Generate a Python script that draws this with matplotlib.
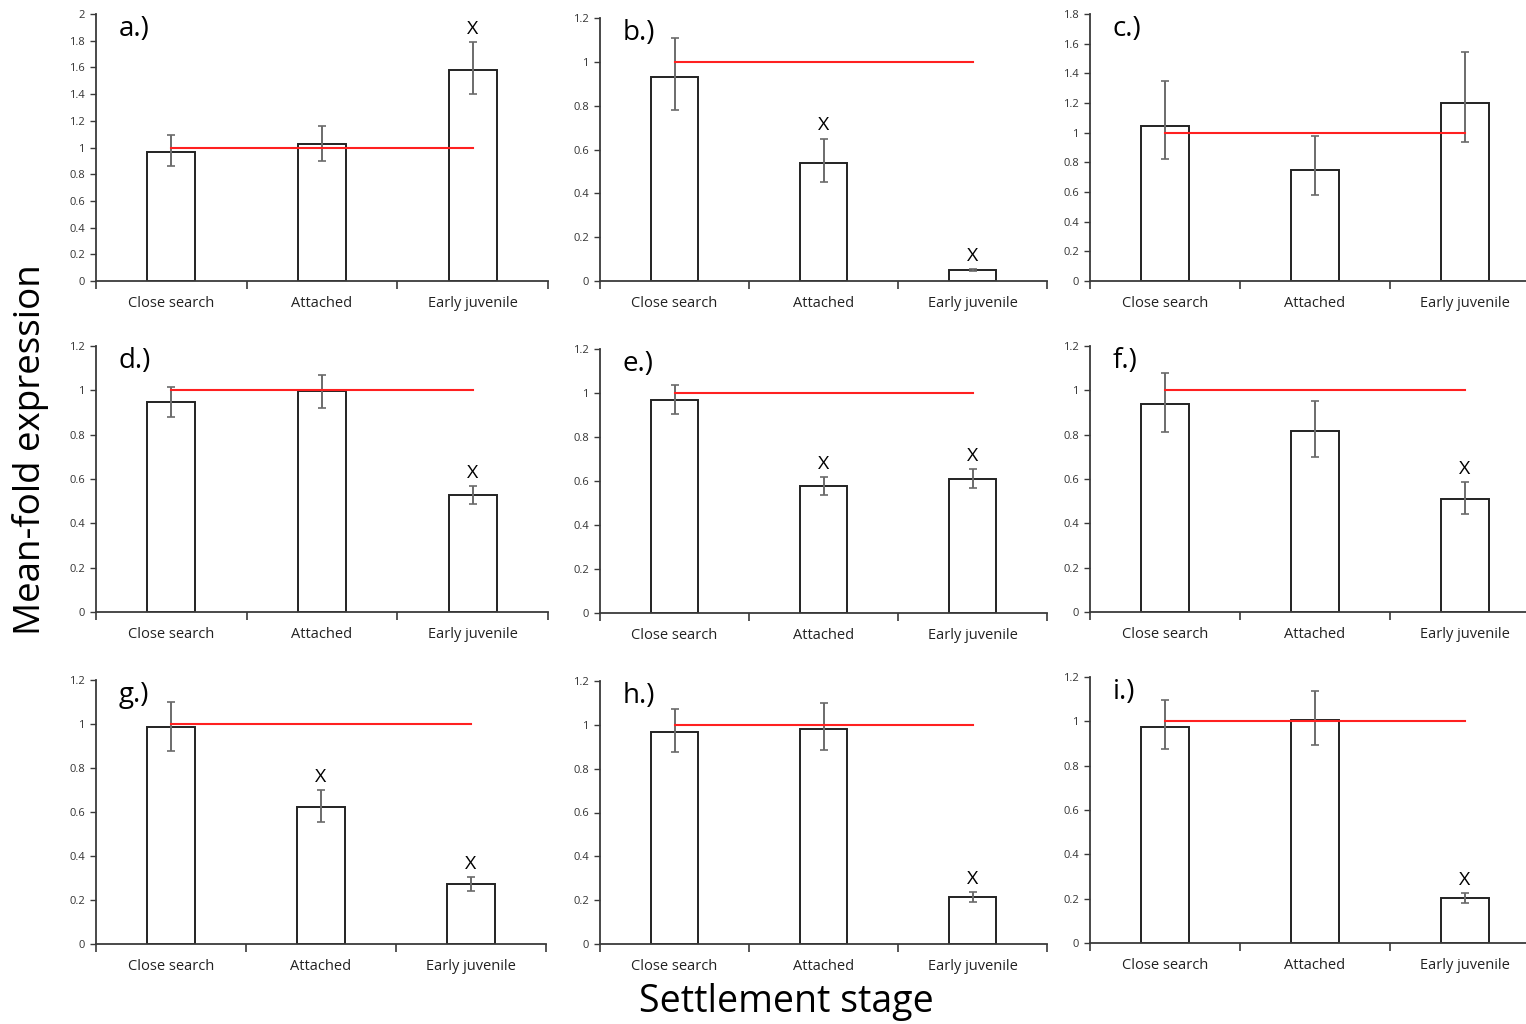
import matplotlib
matplotlib.use("Agg")
import matplotlib.pyplot as plt
import numpy as np

plt.rcParams['font.family'] = ['Open Sans', 'DejaVu Sans']

categories = ["Close search", "Attached", "Early juvenile"]
panel_labels = ["a.)", "b.)", "c.)", "d.)", "e.)", "f.)", "g.)", "h.)", "i.)"]
y_max = [2.0, 1.2, 1.8, 1.2, 1.2, 1.2, 1.2, 1.2, 1.2]

means_a = [0.966, 1.026, 1.58]
err_hi_a = [1.09, 1.16, 1.79]
err_lo_a = [0.86, 0.90, 1.40]
sig_a = [False, False, True]

means_b = [0.93, 0.54, 0.05]
err_hi_b = [1.11, 0.65, 0.056]
err_lo_b = [0.78, 0.45, 0.044]
sig_b = [False, True, True]

means_c = [1.045, 0.75, 1.20]
err_hi_c = [1.35, 0.98, 1.545]
err_lo_c = [0.82, 0.58, 0.94]
sig_c = [False, False, False]

means_d = [0.947, 0.997, 0.528]
err_hi_d = [1.015, 1.07, 0.568]
err_lo_d = [0.88, 0.92, 0.487]
sig_d = [False, False, True]

means_e = [0.968, 0.577, 0.609]
err_hi_e = [1.036, 0.618, 0.655]
err_lo_e = [0.905, 0.536, 0.568]
sig_e = [False, True, True]

means_f = [0.94, 0.816, 0.51]
err_hi_f = [1.08, 0.95, 0.586]
err_lo_f = [0.81, 0.70, 0.44]
sig_f = [False, False, True]

means_g = [0.986, 0.623, 0.273]
err_hi_g = [1.10, 0.70, 0.305]
err_lo_g = [0.877, 0.555, 0.24]
sig_g = [False, True, True]

means_h = [0.968, 0.982, 0.215]
err_hi_h = [1.073, 1.10, 0.237]
err_lo_h = [0.877, 0.885, 0.190]
sig_h = [False, False, True]

means_i = [0.974, 1.006, 0.203]
err_hi_i = [1.096, 1.137, 0.226]
err_lo_i = [0.875, 0.893, 0.182]
sig_i = [False, False, True]

reference_level = 1.0

panels = [
    (means_a, err_lo_a, err_hi_a, sig_a),
    (means_b, err_lo_b, err_hi_b, sig_b),
    (means_c, err_lo_c, err_hi_c, sig_c),
    (means_d, err_lo_d, err_hi_d, sig_d),
    (means_e, err_lo_e, err_hi_e, sig_e),
    (means_f, err_lo_f, err_hi_f, sig_f),
    (means_g, err_lo_g, err_hi_g, sig_g),
    (means_h, err_lo_h, err_hi_h, sig_h),
    (means_i, err_lo_i, err_hi_i, sig_i),
]

W, H = 1526, 1024
fig = plt.figure(figsize=(W / 100, H / 100), dpi=100)

# layout in pixels: (left, right, top, bottom)
layout = [
    (96, 548, 14, 281), (600, 1047, 18, 281), (1090, 1540, 14, 281),
    (96, 548, 346, 612), (600, 1047, 349, 613), (1090, 1540, 346, 612),
    (96, 546, 680, 944), (600, 1047, 681, 944), (1090, 1540, 677, 943),
]

x = np.arange(len(categories)) + 0.5
axis_color = "#3a3a3a"

for k, ((m, lo, hi, sig), (l, r, t, b)) in enumerate(zip(panels, layout)):
    ax = fig.add_axes([l / W, 1 - b / H, (r - l) / W, (b - t) / H])
    m = np.array(m); lo = np.array(lo); hi = np.array(hi)
    ax.bar(x, m, width=0.32, color="white", edgecolor="#222222", linewidth=1.4, zorder=2)
    ax.errorbar(x, m, yerr=[m - lo, hi - m], fmt="none", ecolor="#6b6b6b",
                elinewidth=1.4, capsize=3, capthick=1.2, zorder=3)
    ax.plot([x[0], x[-1]], [reference_level, reference_level], color="#ff2020", lw=1.5, zorder=4)
    for xi, s, h in zip(x, sig, hi):
        if s:
            ax.annotate("X", (xi, h), xytext=(0, 3), textcoords="offset points",
                        ha="center", va="bottom", fontsize=14, color="black")
    ax.set_xlim(0, 3)
    ax.set_ylim(0, y_max[k])
    ticks = np.round(np.arange(0, y_max[k] + 1e-9, 0.2), 1)
    ax.set_yticks(ticks)
    ax.set_yticklabels([f"{v:g}" for v in ticks])
    ax.set_xticks([0, 1, 2, 3])
    ax.set_xticklabels([])
    ax.set_xticks(x, minor=True)
    ax.set_xticklabels(categories, minor=True)
    ax.tick_params(axis="x", which="major", length=6, width=1.2, color=axis_color, direction="out")
    ax.tick_params(axis="x", which="minor", length=0, labelsize=10.5, pad=10.5, labelcolor="#222222")
    ax.tick_params(axis="y", length=4, width=1.0, color=axis_color, labelsize=8, labelcolor="#333333", pad=4)
    for sp in ["top", "right"]:
        ax.spines[sp].set_visible(False)
    for sp in ["left", "bottom"]:
        ax.spines[sp].set_color(axis_color)
        ax.spines[sp].set_linewidth(1.3)
    ax.text(0.05, 0.995, panel_labels[k], transform=ax.transAxes, fontsize=20,
            ha="left", va="top", color="black")

fig.text(31 / W, 1 - 450 / H, "Mean-fold expression", rotation=90, ha="center", va="center", fontsize=26.5)
fig.text(786 / W, 1 - 1002 / H, "Settlement stage", ha="center", va="center", fontsize=27)

fig.savefig("out.png", dpi=100)
